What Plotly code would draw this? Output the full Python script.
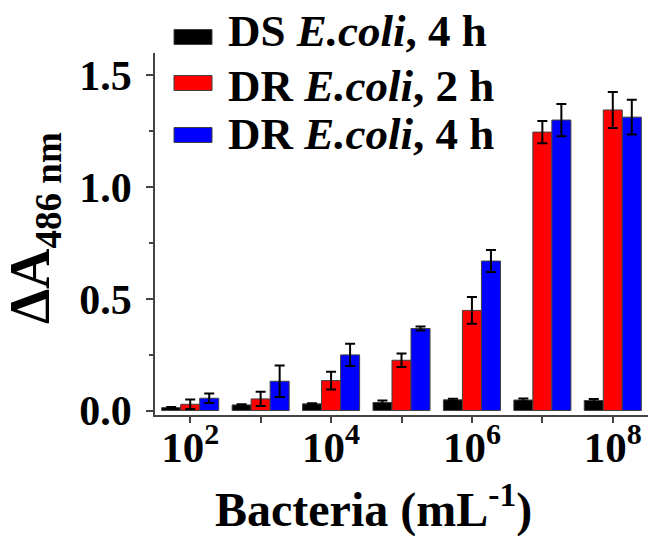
import plotly.graph_objects as go

# ---- data ----
exponents = [2, 3, 4, 5, 6, 7, 8]
labelled_exponents = [2, 4, 6, 8]
series_names = ["DS <i>E.coli</i>, 4 h", "DR <i>E.coli</i>, 2 h", "DR <i>E.coli</i>, 4 h"]
ds_4h = [0.013, 0.025, 0.030, 0.036, 0.048, 0.047, 0.045]
ds_4h_err = [0.003, 0.003, 0.003, 0.009, 0.005, 0.007, 0.007]
dr_2h = [0.028, 0.052, 0.134, 0.225, 0.448, 1.246, 1.345]
dr_2h_err = [0.021, 0.032, 0.040, 0.030, 0.060, 0.050, 0.081]
dr_4h = [0.055, 0.131, 0.249, 0.367, 0.669, 1.300, 1.313]
dr_4h_err = [0.021, 0.070, 0.050, 0.009, 0.049, 0.072, 0.078]
colors = ["#000000", "#FF0000", "#0000FF"]

FONT = "Liberation Serif"
W, H = 649, 536
ML, MR, MT, MB = 155, 1, 53, 121
PW, PH = W - ML - MR, H - MT - MB

def px2paper_x(px):
    return (px - ML) / PW

def px2paper_y(py):
    return (H - MB - py) / PH

x_pos = [e - exponents[0] for e in exponents]
lab_pos = [e - exponents[0] for e in labelled_exponents]
unlab_pos = [p for p in x_pos if p not in lab_pos]
values = [ds_4h, dr_2h, dr_4h]
errors = [ds_4h_err, dr_2h_err, dr_4h_err]

fig = go.Figure()
for name, vals, errs, col in zip(series_names, values, errors, colors):
    fig.add_trace(go.Bar(
        x=x_pos, y=vals, name=name, showlegend=False,
        marker=dict(color=col, line=dict(color="#404040", width=1)),
        error_y=dict(type="data", array=errs, visible=True,
                     color="#000000", thickness=2, width=5),
    ))

# legend drawn as swatches + text
leg_rows_y = [37, 83, 135]        # swatch centres (px)
leg_text_y = [31, 86, 134]        # text middles (px)
for name, col, sy, ty in zip(series_names, colors, leg_rows_y, leg_text_y):
    fig.add_shape(type="rect", xref="paper", yref="paper",
                  x0=px2paper_x(174), x1=px2paper_x(212),
                  y0=px2paper_y(sy - 7.5), y1=px2paper_y(sy + 7.5),
                  fillcolor=col, line=dict(color="#404040", width=1))
    fig.add_annotation(xref="paper", yref="paper",
                       x=px2paper_x(226), y=px2paper_y(ty),
                       xanchor="left", yanchor="middle", showarrow=False,
                       text="<b>" + name + "</b>",
                       font=dict(family=FONT, size=45, color="#000000"))

# axis titles
fig.add_annotation(xref="paper", yref="paper",
                   x=px2paper_x(373), y=px2paper_y(506),
                   xanchor="center", yanchor="middle", showarrow=False,
                   text="<b>Bacteria (mL<sup>-1</sup>)</b>",
                   font=dict(family=FONT, size=48, color="#000000"))
fig.add_annotation(xref="paper", yref="paper",
                   x=px2paper_x(34), y=px2paper_y(228),
                   xanchor="center", yanchor="middle", showarrow=False,
                   textangle=-90,
                   text="<b>ΔA<sub><span style='font-size:37px'>486 nm</span></sub></b>",
                   font=dict(family=FONT, size=56, color="#000000"))

fig.update_layout(
    width=W, height=H,
    margin=dict(l=ML, r=MR, t=MT, b=MB, pad=0),
    paper_bgcolor="white", plot_bgcolor="white",
    barmode="group", bargap=0.19, bargroupgap=0,
    font=dict(family=FONT, size=42, color="#000000"),
    xaxis=dict(
        range=[-0.5, 6.5], tickmode="array", tickvals=lab_pos,
        ticktext=["<b>10<sup>%d</sup></b>" % e for e in labelled_exponents],
        showline=True, linecolor="#444444", linewidth=1.5,
        ticks="outside", ticklen=6, tickwidth=1.5, tickcolor="#444444",
        minor=dict(tickvals=unlab_pos, ticks="outside", ticklen=6,
                   tickwidth=1.5, tickcolor="#444444", showgrid=False),
        showgrid=False, zeroline=False, ticklabelstandoff=-12,
        tickfont=dict(family=FONT, size=43, color="#000000"),
    ),
    yaxis=dict(
        range=[-0.02, 1.6], tickmode="array",
        tickvals=[0, 0.5, 1.0, 1.5],
        ticktext=["<b>0.0</b>", "<b>0.5</b>", "<b>1.0</b>", "<b>1.5</b>"],
        showline=True, linecolor="#444444", linewidth=1.5,
        ticks="outside", ticklen=7, tickwidth=1.5, tickcolor="#444444",
        minor=dict(tickvals=[0.25, 0.75, 1.25], ticks="outside", ticklen=4,
                   tickwidth=1.5, tickcolor="#444444", showgrid=False),
        showgrid=False, zeroline=False, ticklabelstandoff=6,
        tickfont=dict(family=FONT, size=42, color="#000000"),
    ),
)

fig.write_html("out.html")
